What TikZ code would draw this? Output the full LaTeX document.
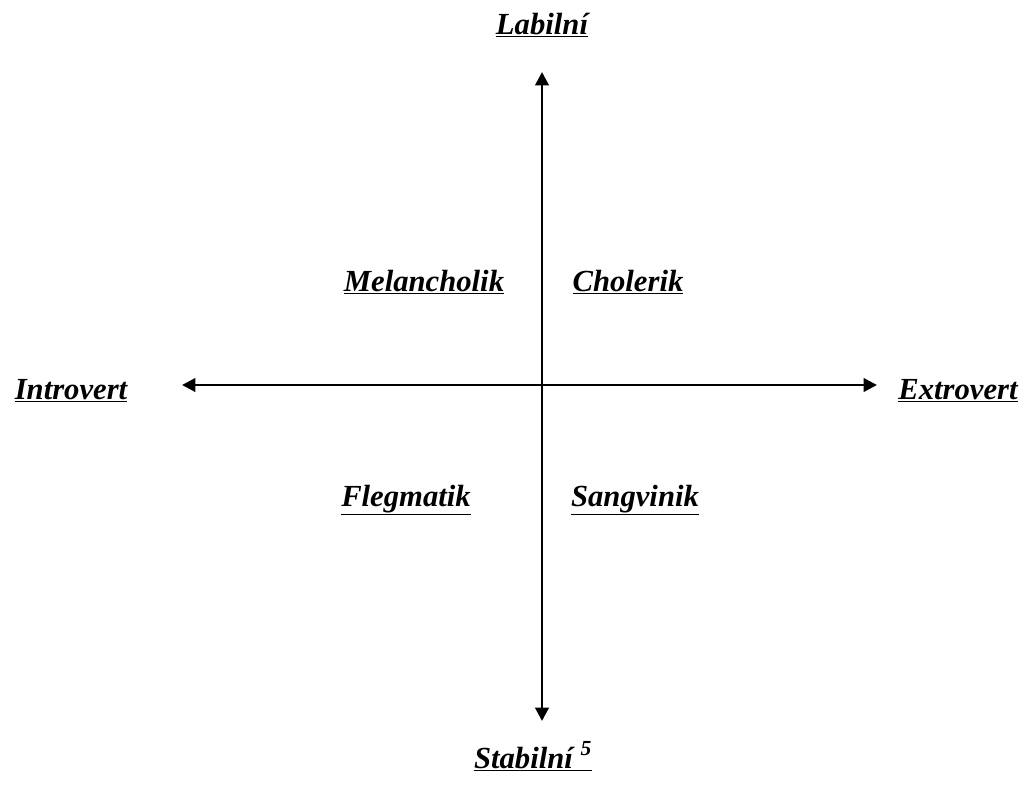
\documentclass[tikz,border=0pt]{standalone}
\usepackage{fontspec}
\setmainfont{Liberation Serif}
\usepackage{tikz}
\usetikzlibrary{arrows.meta,positioning}

\begin{document}
\begin{tikzpicture}[x=0.75pt,y=-0.75pt,>={Triangle[length=10pt,width=10pt]},
  lbl/.style={anchor=base,inner sep=0pt,font=\fontsize{23}{27}\selectfont\bfseries\itshape}]
  \useasboundingbox (0,0) rectangle (1028,790);
  \def\cx{542}
  \def\cy{385}

  % axes
  \coordinate (top) at (\cx,72);
  \coordinate (bot) at (\cx,721);
  \coordinate (lft) at (182,\cy);
  \coordinate (rgt) at (877,\cy);
  \draw[line width=2.1pt,<->] (top) -- (bot);
  \draw[line width=2.1pt,<->] (lft) -- (rgt);

  % axis labels
  \node[lbl] (labil) at (\cx,34) {\underline{Labilní}};
  \node[lbl] (stab) at (533,768) {\underline{Stabilní \textsuperscript{5}}};
  \node[lbl] (intro) at (71,399) {\underline{Introvert}};
  \node[lbl] (extro) at (958,399) {\underline{Extrovert}};

  % quadrants
  \node[lbl] (mel) at (424,291) {\underline{Melancholik}};
  \node[lbl] (chol) at (628,291) {\underline{Cholerik}};
  \node[lbl] (fleg) at (406,506) {\underline{Flegmatik}};
  \node[lbl] (sang) at (635,506) {\underline{Sangvinik}};
\end{tikzpicture}
\end{document}
